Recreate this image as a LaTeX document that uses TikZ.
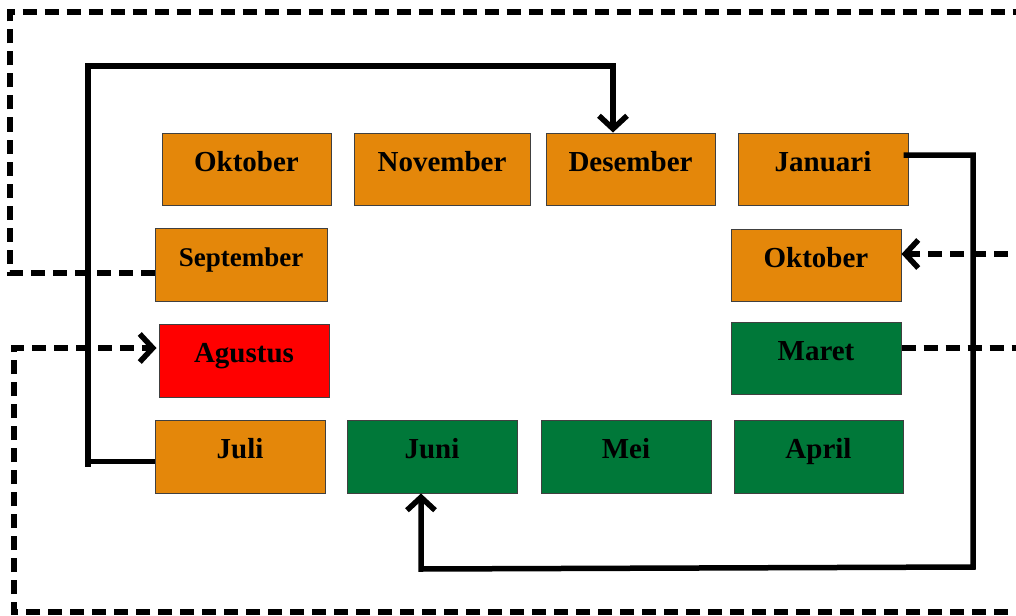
\documentclass[tikz,border=0pt]{standalone}
\usepackage{fontspec}
\setmainfont{Liberation Serif}
\usetikzlibrary{arrows.meta}
\definecolor{monthorange}{RGB}{228,135,10}
\definecolor{monthgreen}{RGB}{0,120,57}
\definecolor{monthred}{RGB}{255,0,0}
\tikzset{
  month/.style={draw=black!75, line width=1pt, inner sep=0pt,
    minimum width=170pt, text height=38pt, text depth=34pt,
    font=\fontsize{29}{31}\selectfont\bfseries},
  dry/.style={month, fill=monthorange},
  wet/.style={month, fill=monthgreen},
  peak/.style={month, fill=monthred},
  flow/.style={line width=5.5pt, line join=miter},
  flowdash/.style={flow, dash pattern=on 14pt off 8pt},
  tip/.style={-{Straight Barb[length=13pt,width=28pt,line width=5.5pt]}}
}
\begin{document}
\begin{tikzpicture}[x=1pt,y=-1pt]
\useasboundingbox (0,0) rectangle (1016,615);
\clip (0,0) rectangle (1016,615);
\fill[white] (0,0) rectangle (1016,615);

% month boxes
\node[dry, minimum width=169pt] (okt1) at (246.5,169) {Oktober};
\node[dry, minimum width=176pt] (nov)  at (442,169)   {November};
\node[dry, minimum width=169pt] (des)  at (630.5,169) {Desember};
\node[dry, minimum width=170pt] (jan)  at (823,169)   {Januari};
\node[dry, minimum width=172pt, text depth=35pt, font=\fontsize{27}{29}\selectfont\bfseries] (sep) at (241,264.5) {September};
\node[dry] (okt2) at (816,265) {Oktober};
\node[peak, text depth=35pt] (agu) at (244,360.5) {Agustus};
\node[wet] (mar) at (816,358.5) {Maret};
\node[dry, text depth=35pt] (jul) at (240,456.5) {Juli};
\node[wet, text depth=35pt] (jun) at (432,456.5) {Juni};
\node[wet, text depth=35pt] (mei) at (626,456.5) {Mei};
\node[wet, minimum width=169pt, text depth=35pt] (apr) at (818.5,456.5) {April};

% route points of the connectors (shifts are in page units, up = positive)
\coordinate (desin) at ([xshift=-17.5pt]des.north);
\coordinate (junin) at ([xshift=-11pt]jun.south);
\coordinate (julout) at ([yshift=-5pt]jul.west);
\coordinate (janout) at ([xshift=-5pt,yshift=14pt]jan.east);
\coordinate (sepout) at ([yshift=-8.5pt]sep.west);
\coordinate (oktin) at ([yshift=11pt]okt2.east);
\coordinate (marout) at ([yshift=10.5pt]mar.east);
\coordinate (aguin) at ([xshift=-2pt,yshift=12.5pt]agu.west);
\coordinate (farright) at (1030,0);

% solid connectors
\draw[flow, tip] (julout) -- (88,0 |- julout) -- (88,66) -- (desin |- 0,66) -- (desin);
\draw[flow] (88,0 |- julout) -- (88,467);
\draw[flow, tip] (janout) -- (973,0 |- janout) -- (973,567) -- (junin |- 0,569) -- (junin);

% dashed connectors
\draw[flowdash] (sepout) -- (10,0 |- sepout) -- (10,12) -- (farright |- 0,12);
\draw[flowdash, tip] (farright |- oktin) -- (oktin);
\draw[flowdash] (marout) -- (farright |- marout);
\draw[flowdash, tip] (farright |- 0,612) -- (14,612) -- (14,0 |- aguin) -- (aguin);
\end{tikzpicture}
\end{document}
